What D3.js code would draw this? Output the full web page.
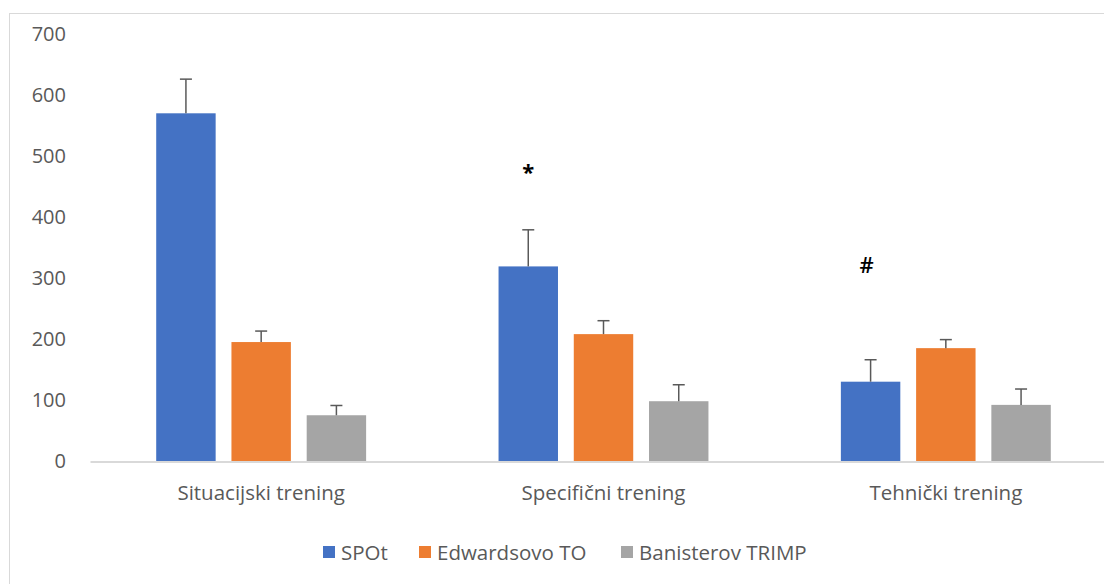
<!DOCTYPE html>
<html><head><meta charset="utf-8">
<script src="https://cdn.jsdelivr.net/npm/d3@7"></script>
<style>html,body{margin:0;padding:0;background:#fff;} svg{display:block;}</style>
</head><body>
<svg id="chart" width="1104" height="584"></svg>
<script>
const categories = ["Situacijski trening", "Specifični trening", "Tehnički trening"];
const seriesNames = ["SPOt", "Edwardsovo TO", "Banisterov TRIMP"];
const spotValues = [570, 319, 130];
const spotErrors = [56, 60, 36];
const edwardsValues = [195, 208, 185];
const edwardsErrors = [18, 22, 14];
const banisterValues = [75, 98, 92];
const banisterErrors = [16, 27, 26];
const yTicks = [0, 100, 200, 300, 400, 500, 600, 700];
const annotations = [{cat: 1, text: "*", value: 470, dx: 0}, {cat: 2, text: "#", value: 318, dx: -4}];
const colors = ["#4472c4", "#ed7d31", "#a5a5a5"];

const values = [spotValues, edwardsValues, banisterValues];
const errors = [spotErrors, edwardsErrors, banisterErrors];

const svg = d3.select("#chart");
const font = "'Open Sans', sans-serif";
const textColor = "#595959";

svg.append("rect").attr("x", 9.5).attr("y", 13.5).attr("width", 1120).attr("height", 600)
  .attr("fill", "#fff").attr("stroke", "#d9d9d9").attr("stroke-width", 1);

const x0 = d3.scaleBand().domain(categories).range([90, 1117]).paddingInner(0).paddingOuter(0);
const x1 = d3.scaleBand().domain(seriesNames).range([0, x0.bandwidth()]).paddingInner(0.21).paddingOuter(0.88);
const y = d3.scaleLinear().domain([0, 700]).range([461, 34]);

// y axis labels
const yAxis = d3.axisLeft(y).tickValues(yTicks).tickSize(0).tickPadding(0);
const yg = svg.append("g").attr("transform", "translate(66,0)").call(yAxis);
yg.select(".domain").remove();
yg.selectAll("text").attr("font-family", font).attr("font-size", 20).attr("fill", textColor);

// x axis
const xAxis = d3.axisBottom(x0).tickSize(0).tickPadding(24);
const xg = svg.append("g").attr("transform", "translate(0,461.5)").call(xAxis);
xg.select(".domain").attr("stroke", "#d9d9d9").attr("stroke-width", 2);
xg.selectAll("text").attr("font-family", font).attr("font-size", 20.5).attr("fill", textColor);

// bars
seriesNames.forEach((s, si) => {
  const g = svg.append("g");
  categories.forEach((c, ci) => {
    const v = values[si][ci], e = errors[si][ci];
    const bx = x0(c) + x1(s);
    g.append("rect").attr("x", bx).attr("y", y(v)).attr("width", x1.bandwidth())
      .attr("height", y(0) - y(v)).attr("fill", colors[si]);
    const cx = bx + x1.bandwidth() / 2;
    g.append("line").attr("x1", cx).attr("x2", cx).attr("y1", y(v)).attr("y2", y(v + e))
      .attr("stroke", "#595959").attr("stroke-width", 1.5);
    g.append("line").attr("x1", cx - 6).attr("x2", cx + 6).attr("y1", y(v + e)).attr("y2", y(v + e))
      .attr("stroke", "#595959").attr("stroke-width", 1.5);
  });
});

// annotations
annotations.forEach(a => {
  const c = categories[a.cat];
  const cx = x0(c) + x1(seriesNames[0]) + x1.bandwidth() / 2 + a.dx;
  svg.append("text").attr("x", cx).attr("y", y(a.value)).attr("text-anchor", "middle")
    .attr("dominant-baseline", "middle")
    .attr("font-family", font).attr("font-size", 22).attr("font-weight", a.text === "*" ? "bold" : "600").attr("fill", "#000")
    .text(a.text);
});

// legend
const legendX = [323, 419, 621];
const lg = svg.append("g");
seriesNames.forEach((s, i) => {
  lg.append("rect").attr("x", legendX[i]).attr("y", 546).attr("width", 12).attr("height", 12).attr("fill", colors[i]);
  lg.append("text").attr("x", legendX[i] + 18).attr("y", 552).attr("dominant-baseline", "central")
    .attr("font-family", font).attr("font-size", 20.5).attr("fill", textColor).text(s);
});
</script>
</body></html>
